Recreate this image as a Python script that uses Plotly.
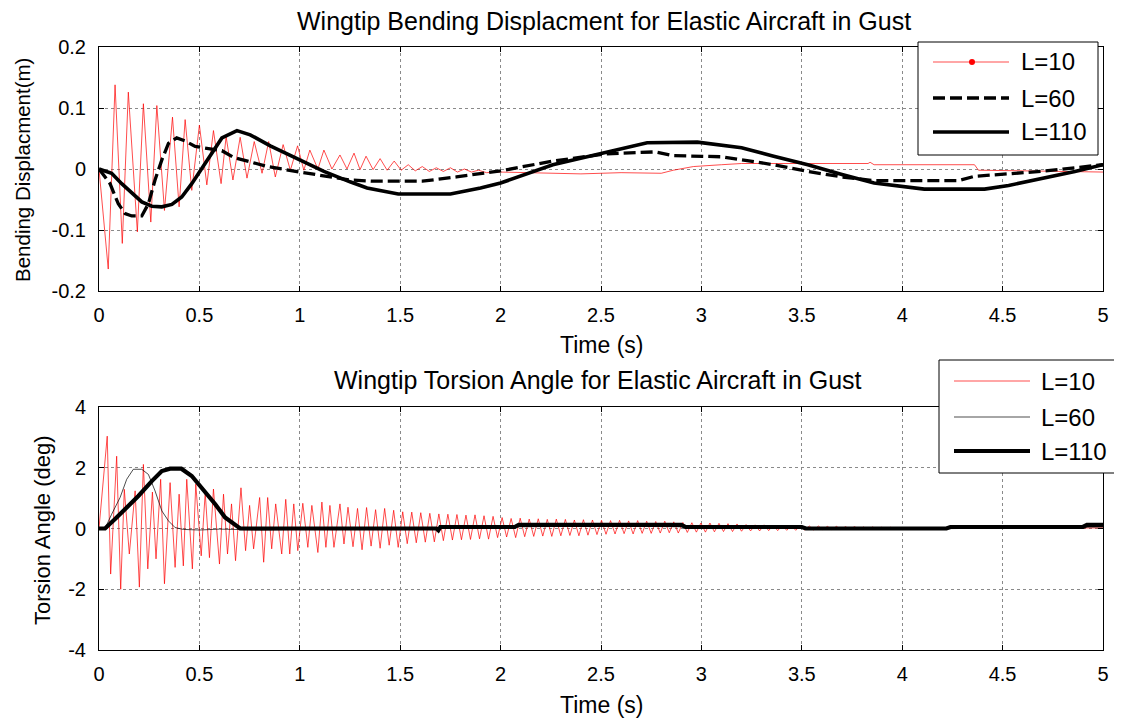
import plotly.graph_objects as go

# ---------------- data: wingtip bending displacement (m) ----------------
bend_L10_t = [0, 0.046, 0.08, 0.116, 0.146, 0.191, 0.221, 0.258, 0.288, 0.326, 0.366, 0.399,
              0.429, 0.462, 0.50, 0.537, 0.57, 0.608, 0.633, 0.667, 0.703, 0.737, 0.773, 0.812,
              0.845, 0.878, 0.917, 0.953, 0.989, 1.02, 1.05, 1.09, 1.12, 1.16, 1.20, 1.235,
              1.27, 1.30, 1.33, 1.365, 1.40, 1.435, 1.47, 1.505, 1.54, 1.575, 1.61, 1.645,
              1.68, 1.715, 1.75, 1.785, 1.82, 1.855, 1.89, 1.93, 2.0, 2.2, 2.4, 2.6, 2.8,
              2.86, 2.96, 3.1, 3.2, 3.5, 3.83, 3.84, 3.86, 4.36, 4.38, 4.6, 4.8, 5.0]
bend_L10_v = [0, -0.164, 0.138, -0.122, 0.126, -0.103, 0.107, -0.087, 0.104, -0.068, 0.085, -0.062,
              0.081, -0.035, 0.072, -0.026, 0.063, -0.024, 0.053, -0.018, 0.052, -0.015, 0.045, -0.007,
              0.045, -0.013, 0.040, -0.002, 0.038, -0.002, 0.031, 0.000, 0.031, 0.000, 0.023, 0.000,
              0.026, -0.001, 0.021, -0.001, 0.017, -0.002, 0.013, -0.002, 0.007, -0.003, 0.004, -0.004,
              0.002, -0.004, 0.002, -0.005, 0.000, -0.005, -0.002, -0.006, -0.005, -0.006, -0.008, -0.006, -0.007,
              -0.002, 0.004, 0.007, 0.009, 0.009, 0.009, 0.011, 0.007, 0.007, -0.002, -0.003, -0.004, -0.005]

bend_L60_t = [0, 0.055, 0.096, 0.13, 0.163, 0.213, 0.246, 0.279, 0.313, 0.346, 0.387, 0.429,
              0.479, 0.612, 0.67, 0.84, 1.0, 1.25, 1.36, 1.61, 1.78, 2.0, 2.26, 2.53, 2.77,
              2.86, 3.1, 3.2, 3.3, 3.36, 3.53, 3.7, 3.86, 4.28, 4.36, 4.69, 5.0]
bend_L60_v = [0, -0.024, -0.057, -0.073, -0.077, -0.077, -0.057, -0.018, 0.015, 0.042, 0.051, 0.046,
              0.037, 0.030, 0.019, 0.004, -0.005, -0.018, -0.020, -0.020, -0.013, -0.003, 0.013, 0.025, 0.028,
              0.022, 0.020, 0.015, 0.010, 0.007, -0.004, -0.013, -0.019, -0.019, -0.012, -0.004, 0.007]

bend_L110_t = [0, 0.063, 0.113, 0.163, 0.213, 0.263, 0.313, 0.363, 0.412, 0.462, 0.512, 0.562,
               0.612, 0.687, 0.753, 0.853, 1.0, 1.12, 1.25, 1.335, 1.49, 1.75, 1.9, 2.0, 2.26,
               2.53, 2.73, 2.98, 3.2, 3.36, 3.53, 3.7, 3.86, 4.11, 4.41, 4.53, 4.69, 4.86, 5.0]
bend_L110_v = [0, -0.007, -0.024, -0.040, -0.054, -0.061, -0.062, -0.058, -0.046, -0.024, 0.001, 0.026,
               0.051, 0.063, 0.056, 0.038, 0.014, -0.004, -0.021, -0.031, -0.041, -0.041, -0.031, -0.023, 0.007,
               0.028, 0.043, 0.044, 0.035, 0.021, 0.007, -0.009, -0.023, -0.033, -0.033, -0.027, -0.016, -0.004, 0.007]

# ---------------- data: wingtip torsion angle (deg) ----------------
tors_L10_t = [0, 0.041, 0.058, 0.088, 0.108, 0.126, 0.151, 0.18, 0.201, 0.221, 0.243, 0.266,
              0.284, 0.307, 0.326, 0.354, 0.379, 0.399, 0.42, 0.437, 0.465, 0.482, 0.509, 0.529,
              0.55, 0.57, 0.60, 0.62, 0.64, 0.66, 0.68, 0.707, 0.73, 0.75, 0.77, 0.80, 0.82,
              0.84, 0.86, 0.88, 0.91, 0.93, 0.95, 0.97, 0.99, 1.015, 1.04, 1.06, 1.09, 1.11,
              1.13, 1.15, 1.17, 1.20, 1.22, 1.24,
              1.265, 1.2875, 1.31, 1.3325, 1.355, 1.3775, 1.40, 1.4225, 1.445, 1.4675, 1.49, 1.5125,
              1.535, 1.5575, 1.58, 1.6025, 1.625, 1.6475, 1.67, 1.6925, 1.715, 1.7375, 1.76, 1.7825,
              1.805, 1.8275, 1.85, 1.8725, 1.895, 1.9175, 1.94, 1.9625, 1.985, 2.0075, 2.03, 2.0525,
              2.075, 2.0975, 2.12, 2.1425, 2.165, 2.1875, 2.21, 2.2325, 2.255, 2.2775, 2.30, 2.3225,
              2.345, 2.3675, 2.39, 2.4125, 2.435, 2.4575, 2.48, 2.5025, 2.525, 2.5475, 2.57, 2.5925,
              2.615, 2.6375, 2.66, 2.6825, 2.705, 2.7275, 2.75, 2.7725, 2.795, 2.8175, 2.84, 2.8625,
              2.885, 2.9075, 2.93, 2.9525, 2.975, 2.9975, 3.02, 3.0425, 3.065, 3.0875, 3.11, 3.1325,
              3.155, 3.1775, 3.20, 3.2225, 3.245, 3.2675, 3.29, 3.3125, 3.335, 3.3575, 3.38, 3.4025,
              3.425, 3.4475, 3.47, 3.4925, 3.515, 3.5375, 3.56, 3.5825, 3.605, 3.6275, 3.65, 3.6725,
              3.695, 3.7175, 3.74, 3.7625, 3.785, 3.8075, 3.83, 3.8525, 3.875, 3.8975, 3.92, 3.9425,
              3.965, 3.9875, 4.01, 4.0325, 4.055, 4.0775, 4.10, 4.1225, 4.145, 4.1675, 4.19, 4.3,
              4.6, 5.0]
tors_L10_v = [0, 3.04, -1.5, 2.38, -2.0, 1.29, -0.84, 1.24, -1.93, 2.11, -1.33, 1.2,
              -1.0, 1.62, -1.82, 1.51, -1.28, 1.13, -1.23, 1.62, -1.33, 1.46, -0.9, 1.18,
              -0.96, 1.3, -1.17, 1.13, -0.84, 0.81, -1.06, 1.34, -0.73, 0.76, -0.67, 1.02, -1.11,
              1.02, -0.67, 0.81, -0.84, 0.96, -0.84, 0.81, -0.73, 0.83, -0.62, 0.76, -0.79, 0.87,
              -0.62, 0.76, -0.62, 0.81, -0.51, 0.70,
              -0.60, 0.66, -0.70, 0.69, -0.58, 0.62, -0.65, 0.66, -0.55, 0.60, -0.62, 0.55,
              -0.50, 0.54, -0.47, 0.52, -0.45, 0.50, -0.44, 0.48, -0.40, 0.47, -0.38, 0.46,
              -0.37, 0.44, -0.36, 0.45, -0.34, 0.42, -0.35, 0.40, -0.30, 0.36, -0.28, 0.33,
              -0.30, 0.34, -0.27, 0.31, -0.26, 0.32, -0.25, 0.30, -0.26, 0.31, -0.24, 0.30,
              -0.23, 0.28, -0.24, 0.29, -0.22, 0.28, -0.20, 0.27, -0.19, 0.26, -0.18, 0.27,
              -0.17, 0.25, -0.18, 0.26, -0.16, 0.24, -0.16, 0.23, -0.15, 0.24, -0.14, 0.22,
              -0.15, 0.20, -0.13, 0.19, -0.12, 0.18, -0.12, 0.18, -0.11, 0.17, -0.10, 0.16,
              -0.10, 0.15, -0.09, 0.13, -0.08, 0.12, -0.08, 0.12, -0.07, 0.11, -0.07, 0.10,
              -0.06, 0.10, -0.06, 0.09, -0.05, 0.08, -0.05, 0.08, -0.04, 0.07, -0.04, 0.07,
              -0.04, 0.06, -0.03, 0.06, -0.03, 0.05, -0.03, 0.05, -0.02, 0.04, -0.02, 0.04,
              -0.02, 0.03, -0.02, 0.03, -0.01, 0.03, -0.01, 0.02, -0.01, 0.02, 0.00, 0.01,
              0.01, 0.02]

tors_L60_t = [0, 0.03, 0.063, 0.105, 0.138, 0.171, 0.213, 0.246, 0.279, 0.313, 0.346, 0.379,
              0.42, 0.5, 0.6, 0.8, 1.0, 1.5, 2.0, 2.5, 3.0, 3.5, 4.0, 4.5, 5.0]
tors_L60_v = [0, 0.0, 0.47, 1.02, 1.62, 1.95, 1.95, 1.78, 1.24, 0.58, 0.25, 0.03,
              -0.03, -0.05, -0.02, -0.05, -0.03, -0.03, 0.05, 0.08, 0.05, 0.0, -0.02, 0.02, 0.05]

tors_L110_t = [0, 0.03, 0.08, 0.146, 0.196, 0.263, 0.313, 0.354, 0.41, 0.462, 0.512, 0.579,
               0.628, 0.703, 1.68, 1.69, 1.70, 2.07, 2.09, 2.9, 2.92, 3.5, 3.52, 4.22, 4.24,
               4.9, 4.92, 5.0]
tors_L110_v = [0, 0.0, 0.31, 0.74, 1.07, 1.56, 1.89, 1.97, 1.97, 1.73, 1.34, 0.8,
               0.36, 0.0, 0.0, -0.06, 0.05, 0.05, 0.12, 0.12, 0.05, 0.05, 0.0, 0.0, 0.05,
               0.05, 0.12, 0.12]

x_ticks = [0, 0.5, 1, 1.5, 2, 2.5, 3, 3.5, 4, 4.5, 5]
x_ticktext = ["0", "0.5", "1", "1.5", "2", "2.5", "3", "3.5", "4", "4.5", "5"]
y1_ticks = [-0.2, -0.1, 0, 0.1, 0.2]
y1_ticktext = ["-0.2", "-0.1", "0", "0.1", "0.2"]
y2_ticks = [-4, -2, 0, 2, 4]
y2_ticktext = ["-4", "-2", "0", "2", "4"]
legend_names = ["L=10", "L=60", "L=110"]

# ---------------- layout helpers ----------------
# page body has an 8px margin, so the figure is sized to end exactly at the window edge
OFF = 8
W, H = 1122 - OFF, 719 - OFF
FONT = "Liberation Sans, Arial, Helvetica, sans-serif"


def fx(p):
    return (p - OFF) / W


def fy(p):
    return 1 - (p - OFF) / H


fig = go.Figure()
fig.add_trace(go.Scatter(x=bend_L10_t, y=bend_L10_v, mode="lines", name=legend_names[0],
                         line=dict(color="#ff0000", width=0.7), xaxis="x", yaxis="y"))
fig.add_trace(go.Scatter(x=bend_L60_t, y=bend_L60_v, mode="lines", name=legend_names[1],
                         line=dict(color="black", width=3.3, dash="12px,5px"), xaxis="x", yaxis="y"))
fig.add_trace(go.Scatter(x=bend_L110_t, y=bend_L110_v, mode="lines", name=legend_names[2],
                         line=dict(color="black", width=3.6), xaxis="x", yaxis="y"))

fig.add_trace(go.Scatter(x=tors_L10_t, y=tors_L10_v, mode="lines", name=legend_names[0],
                         line=dict(color="#ff0000", width=0.7), xaxis="x2", yaxis="y2"))
fig.add_trace(go.Scatter(x=tors_L60_t, y=tors_L60_v, mode="lines", name=legend_names[1],
                         line=dict(color="black", width=0.7), xaxis="x2", yaxis="y2"))
fig.add_trace(go.Scatter(x=tors_L110_t, y=tors_L110_v, mode="lines", name=legend_names[2],
                         line=dict(color="black", width=4.2), xaxis="x2", yaxis="y2"))

axis_common = dict(showline=True, linecolor="black", linewidth=1, mirror="ticks",
                   ticks="inside", ticklen=5, tickcolor="black", tickwidth=1,
                   showgrid=True, gridcolor="#8a8a8a", griddash="dot", gridwidth=1,
                   zeroline=False, automargin=False,
                   tickfont=dict(family=FONT, size=20, color="black"))

xdom = [fx(99), fx(1103)]
fig.update_layout(
    width=W, height=H, showlegend=False, autosize=False,
    paper_bgcolor="white", plot_bgcolor="white",
    margin=dict(l=0, r=0, t=0, b=0, pad=0, autoexpand=False),
    xaxis=dict(axis_common, domain=xdom, anchor="y", range=[0, 5],
               tickvals=x_ticks, ticktext=x_ticktext, ticklabelstandoff=6),
    yaxis=dict(axis_common, domain=[fy(291), fy(47)], anchor="x", range=[-0.2, 0.2],
               tickvals=y1_ticks, ticktext=y1_ticktext, ticklabelstandoff=8),
    xaxis2=dict(axis_common, domain=xdom, anchor="y2", range=[0, 5],
                tickvals=x_ticks, ticktext=x_ticktext, ticklabelstandoff=6),
    yaxis2=dict(axis_common, domain=[fy(650), fy(407)], anchor="x2", range=[-4, 4],
                tickvals=y2_ticks, ticktext=y2_ticktext, ticklabelstandoff=8),
)

ann = []
tfont = dict(family=FONT, size=25, color="black")
xfont = dict(family=FONT, size=23, color="black")
ann.append(dict(text="Wingtip Bending Displacment for Elastic Aircraft in Gust", x=fx(604), y=fy(21),
                xref="paper", yref="paper", showarrow=False, font=tfont, xanchor="center", yanchor="middle"))
ann.append(dict(text="Time (s)", x=fx(601), y=fy(345), xref="paper", yref="paper", showarrow=False,
                font=xfont, xanchor="center", yanchor="middle"))
ann.append(dict(text="Bending Displacment(m)", x=fx(22), y=fy(170), xref="paper", yref="paper",
                showarrow=False, textangle=-90, font=dict(family=FONT, size=20.5, color="black"),
                xanchor="center", yanchor="middle"))
ann.append(dict(text="Wingtip Torsion Angle for Elastic Aircraft in Gust", x=fx(598), y=fy(380),
                xref="paper", yref="paper", showarrow=False, font=tfont, xanchor="center", yanchor="middle"))
ann.append(dict(text="Time (s)", x=fx(601), y=fy(705), xref="paper", yref="paper", showarrow=False,
                font=xfont, xanchor="center", yanchor="middle"))
ann.append(dict(text="Torsion Angle (deg)", x=fx(42), y=fy(530), xref="paper", yref="paper",
                showarrow=False, textangle=-90, font=dict(family=FONT, size=22, color="black"),
                xanchor="center", yanchor="middle"))

shapes = []
lfont = dict(family=FONT, size=24, color="black")


def add_legend(box, rows, styles, text_x, line_x0, line_x1, dot=None):
    x0, y0, x1, y1 = box
    shapes.append(dict(type="rect", xref="paper", yref="paper", x0=fx(x0), x1=fx(x1), y0=fy(y1), y1=fy(y0),
                       line=dict(color="black", width=1), fillcolor="white", layer="above"))
    for name, yy, st in zip(legend_names, rows, styles):
        shapes.append(dict(type="line", xref="paper", yref="paper", x0=fx(line_x0), x1=fx(line_x1),
                           y0=fy(yy), y1=fy(yy), line=st, layer="above"))
        ann.append(dict(text=name, x=fx(text_x), y=fy(yy), xref="paper", yref="paper", showarrow=False,
                        font=lfont, xanchor="left", yanchor="middle"))
    if dot is not None:
        cx, cy = dot
        shapes.append(dict(type="circle", xref="paper", yref="paper", x0=fx(cx - 3), x1=fx(cx + 3),
                           y0=fy(cy + 3), y1=fy(cy - 3), fillcolor="#ff0000", line=dict(color="#ff0000", width=0),
                           layer="above"))


add_legend((918, 42, 1098, 155), [62, 98, 132],
           [dict(color="#ff0000", width=0.7), dict(color="black", width=3.3, dash="12px,5px"),
            dict(color="black", width=3.6)],
           1019, 933, 1009, dot=(972, 62))
add_legend((939, 360, 1118, 473), [381, 417, 451],
           [dict(color="#ff0000", width=0.7), dict(color="black", width=0.7), dict(color="black", width=4.2)],
           1039, 954, 1030)

fig.update_layout(annotations=ann, shapes=shapes)
fig.write_html("out.html")
